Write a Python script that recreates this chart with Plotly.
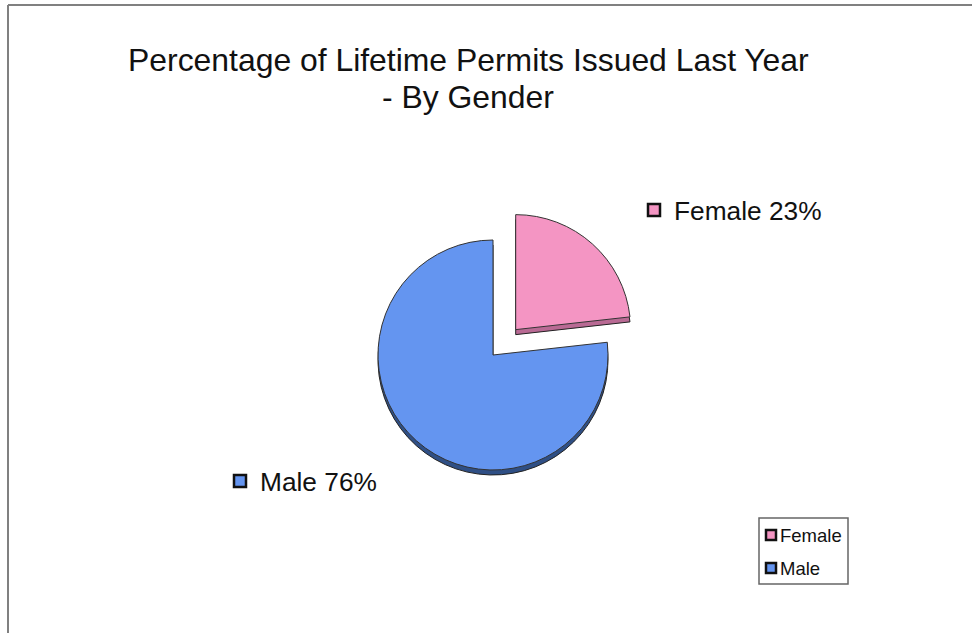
import plotly.graph_objects as go

categories = ["Female", "Male"]
values = [23, 76]
title_lines = ["Percentage of Lifetime Permits Issued Last Year", "- By Gender"]
top_colors = ["#F495C3", "#6495F0"]
side_colors = ["#B96A94", "#2F4F85"]
W, H = 972, 633

def dom(cx, cy, r, pull):
    half = r * (1 + pull)
    return dict(x=[(cx - half) / W, (cx + half) / W], y=[1 - (cy + half) / H, 1 - (cy - half) / H])

pull = [0.296, 0]
R = 115
fig = go.Figure()
fig.add_trace(go.Pie(labels=categories, values=values, sort=False, direction="clockwise", rotation=0,
                     pull=pull, textinfo="none", hoverinfo="skip", showlegend=False,
                     domain=dom(493, 360, R, pull[0]),
                     marker=dict(colors=side_colors, line=dict(color="#222222", width=1))))
fig.add_trace(go.Pie(labels=categories, values=values, sort=False, direction="clockwise", rotation=0,
                     pull=pull, textinfo="none", showlegend=False,
                     domain=dom(493, 355, R, pull[0]),
                     marker=dict(colors=top_colors, line=dict(color="#333333", width=1))))

def text(x, y, s, size, anchor="left"):
    return dict(x=x/W, y=1-y/H, text=s, font=dict(size=size), showarrow=False, xanchor=anchor, yanchor="middle",
                xref="paper", yref="paper")

ann = [
    text(468, 60, title_lines[0], 31.9, "center"),
    text(468, 97, title_lines[1], 31.9, "center"),
    text(672, 211, f"{categories[0]} {values[0]}%", 26.3),
    text(258, 482, f"{categories[1]} {values[1]}%", 26.3),
    text(778, 535, categories[0], 18.5),
    text(778, 568, categories[1], 18.5),
]

def rect(x0, y0, x1, y1, fill, color, width):
    return dict(type="rect", xref="paper", yref="paper", x0=x0/W, x1=x1/W, y0=1-y0/H, y1=1-y1/H,
                fillcolor=fill, line=dict(color=color, width=width))

def line(x0, y0, x1, y1):
    return dict(type="line", xref="paper", yref="paper", x0=x0/W, x1=x1/W, y0=1-y0/H, y1=1-y1/H,
                line=dict(color="#808080", width=2))

shapes = [
    line(8, 5, W, 5), line(8, 5, 8, H),
    rect(648, 204, 660, 216, top_colors[0], "#111111", 2.5),
    rect(234, 475, 246, 487, top_colors[1], "#111111", 2.5),
    rect(759, 518, 848, 584, "white", "#666666", 1.5),
    rect(766, 530, 776, 540, top_colors[0], "#111111", 2.5),
    rect(766, 563, 776, 573, top_colors[1], "#111111", 2.5),
]
fig.update_layout(width=W, height=H, margin=dict(l=0, r=0, t=0, b=0), paper_bgcolor="white", showlegend=False,
                  font=dict(family="Liberation Sans", color="#111111"),
                  annotations=ann, shapes=shapes)
fig.write_html("out.html", config=dict(displayModeBar=False),
               post_script="document.body.style.margin='0';document.body.style.overflow='hidden';")
